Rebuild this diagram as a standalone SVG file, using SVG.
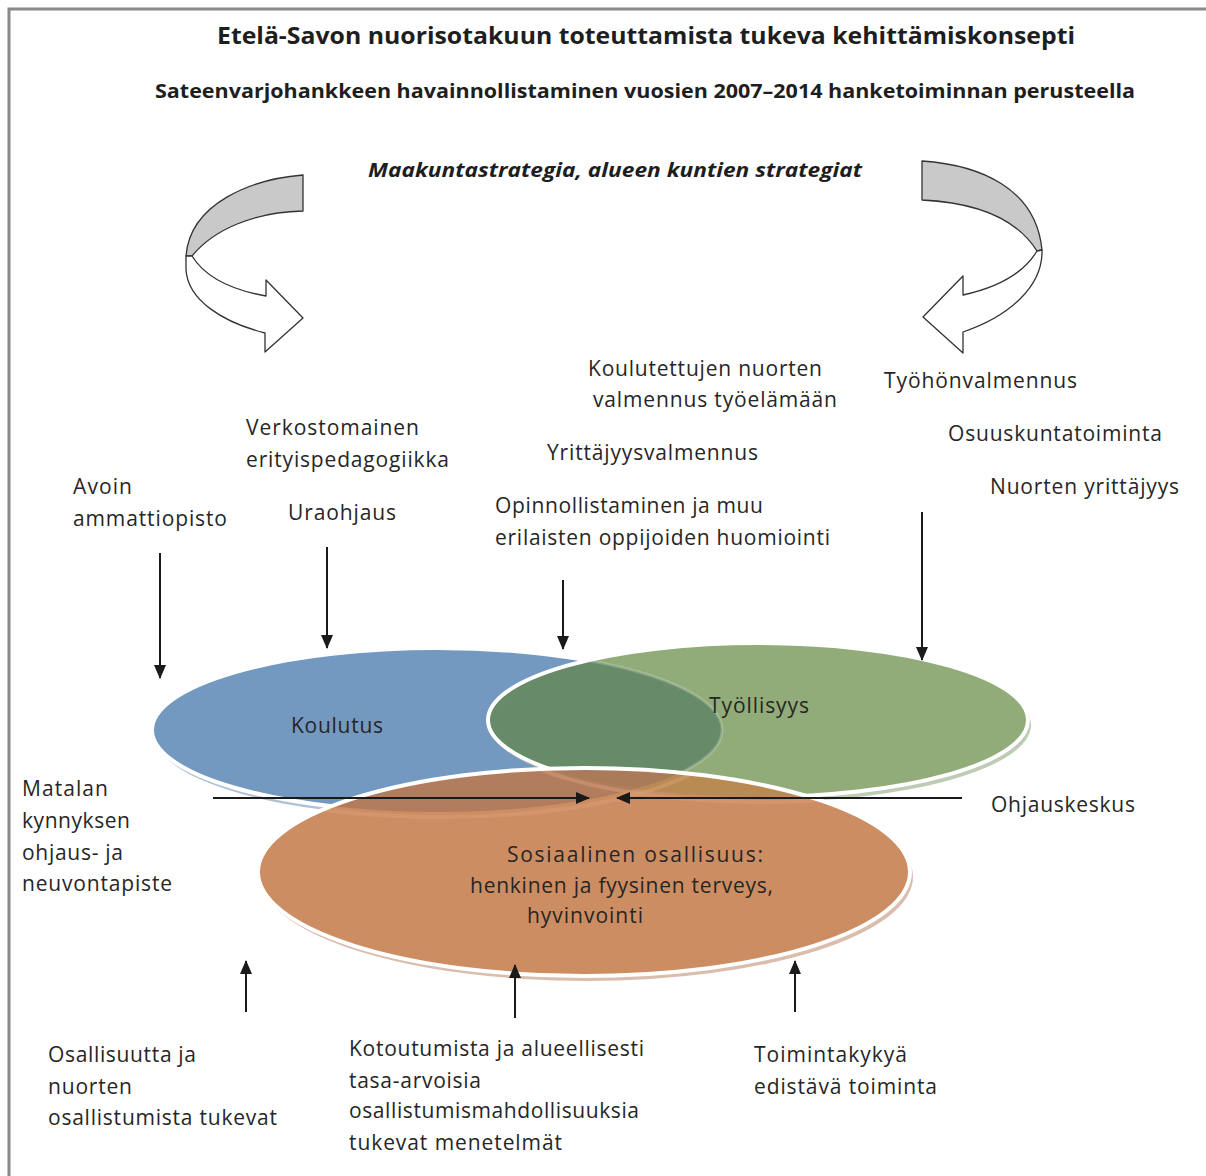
<svg xmlns="http://www.w3.org/2000/svg" width="1206" height="1176" viewBox="0 0 1206 1176">
<defs>
<style>
.t{font-family:"Open Sans","Liberation Sans",sans-serif;font-size:21px;fill:#262626}
.h1{font-family:"Open Sans","Liberation Sans",sans-serif;font-size:23px;font-weight:bold;fill:#1e1e1e}
.h2{font-family:"Open Sans","Liberation Sans",sans-serif;font-size:19px;font-weight:bold;fill:#1e1e1e}
.h3{font-family:"Open Sans","Liberation Sans",sans-serif;font-size:19px;font-weight:bold;font-style:italic;fill:#1e1e1e}
.ar{stroke:#1a1a1a;stroke-width:2;fill:none;marker-end:url(#ah)}
.rib{stroke:#333;stroke-width:1.3;stroke-linejoin:round}
</style>
<marker id="ah" markerUnits="userSpaceOnUse" markerWidth="14" markerHeight="12" refX="13" refY="6" orient="auto">
<path d="M0,0 L14,6 L0,12 Z" fill="#1a1a1a"/>
</marker>
<clipPath id="cb"><ellipse cx="437" cy="730" rx="285" ry="82"/></clipPath>
<clipPath id="cg"><ellipse cx="758" cy="720" rx="270" ry="77"/></clipPath>
<clipPath id="co"><ellipse cx="584" cy="872" rx="326" ry="104"/></clipPath>
</defs>
<rect width="1206" height="1176" fill="#fff"/>
<path d="M9,1176 V9 H1206" fill="none" stroke="#8a8a8a" stroke-width="3"/>

<g id="titles">
<text class="h1" x="646" y="44" text-anchor="middle" textLength="858" lengthAdjust="spacingAndGlyphs">Etelä-Savon nuorisotakuun toteuttamista tukeva kehittämiskonsepti</text>
<text class="h2" x="645" y="98" text-anchor="middle" textLength="980" lengthAdjust="spacingAndGlyphs">Sateenvarjohankkeen havainnollistaminen vuosien 2007–2014 hanketoiminnan perusteella</text>
<text class="h3" x="615" y="177" text-anchor="middle" textLength="494" lengthAdjust="spacingAndGlyphs">Maakuntastrategia, alueen kuntien strategiat</text>
</g>

<g id="cycle-left">
<path class="rib" fill="#c9c9c9" d="M303,175 C252,179 190,203 186,256 L192,256 C214,229 255,212 303,211 Z"/>
<path class="rib" fill="#fff" d="M186,256 L186,270 C188,300 222,322 265,333 L265,352 L303,318 L266,280 L266,296 C232,290 205,277 192,256 Z"/>
</g>
<g id="cycle-right">
<path class="rib" fill="#c9c9c9" d="M922,161 C980,165 1036,188 1042,250 L1037,251 C1020,224 985,203 922,200 Z"/>
<path class="rib" fill="#fff" d="M1042,250 C1043,286 1010,316 963,332 L963,353 L923,317 L963,276 L963,295 C1000,287 1025,271 1037,251 Z"/>
</g>

<g id="ellipses">
<ellipse cx="440" cy="735" rx="285" ry="82" fill="#8ea6c2" opacity="0.7"/>
<ellipse id="koulutus-shape" cx="437" cy="730" rx="285" ry="82" fill="#7499c0" stroke="#fff" stroke-width="4"/>
<ellipse cx="761" cy="725" rx="270" ry="77" fill="#a3b596" opacity="0.7"/>
<ellipse id="tyollisyys-shape" cx="758" cy="720" rx="270" ry="77" fill="#91ac78"/>
<g clip-path="url(#cb)">
<ellipse cx="758" cy="720" rx="270" ry="77" fill="#678a69"/>
</g>
<g clip-path="url(#cg)">
<ellipse cx="437" cy="730" rx="285" ry="82" fill="none" stroke="#fff" stroke-opacity="0.2" stroke-width="3"/>
</g>
<ellipse cx="758" cy="720" rx="270" ry="77" fill="none" stroke="#fff" stroke-width="4"/>
<ellipse cx="587" cy="877" rx="326" ry="104" fill="#c9a38c" opacity="0.7"/>
<ellipse id="osallisuus-shape" cx="584" cy="872" rx="326" ry="104" fill="#cd8d62"/>
<g clip-path="url(#co)">
<ellipse cx="437" cy="730" rx="285" ry="82" fill="#b27d5e"/>
<ellipse cx="758" cy="720" rx="270" ry="77" fill="#b98a52"/>
<g clip-path="url(#cb)"><ellipse cx="758" cy="720" rx="270" ry="77" fill="#a97b58"/></g>
<ellipse cx="440" cy="735" rx="285" ry="82" fill="none" stroke="#dca27a" stroke-opacity="0.45" stroke-width="4"/>
<ellipse cx="761" cy="725" rx="270" ry="77" fill="none" stroke="#dca27a" stroke-opacity="0.45" stroke-width="4"/>
</g>
<ellipse cx="584" cy="872" rx="326" ry="104" fill="none" stroke="#fff" stroke-width="4"/>
</g>

<g id="node-koulutus"><text class="t" x="291" y="733" textLength="92">Koulutus</text></g>
<g id="node-tyollisyys"><text class="t" x="709" y="713" textLength="100">Työllisyys</text></g>
<g id="node-osallisuus">
<text class="t" x="507" y="862" textLength="256">Sosiaalinen osallisuus:</text>
<text class="t" x="470" y="893" textLength="303">henkinen ja fyysinen terveys,</text>
<text class="t" x="527" y="923" textLength="116">hyvinvointi</text>
</g>

<g id="label-koulutettujen">
<text class="t" x="588" y="376" textLength="234">Koulutettujen nuorten</text>
<text class="t" x="593" y="407" textLength="244">valmennus työelämään</text>
</g>
<g id="label-tyohonvalmennus"><text class="t" x="884" y="388" textLength="193">Työhönvalmennus</text></g>
<g id="label-verkostomainen">
<text class="t" x="246" y="435" textLength="173">Verkostomainen</text>
<text class="t" x="246" y="467" textLength="203">erityispedagogiikka</text>
</g>
<g id="label-osuuskunta"><text class="t" x="948" y="441" textLength="214">Osuuskuntatoiminta</text></g>
<g id="label-yrittajyysvalmennus"><text class="t" x="547" y="460" textLength="211">Yrittäjyysvalmennus</text></g>
<g id="label-avoin">
<text class="t" x="73" y="494" textLength="59">Avoin</text>
<text class="t" x="73" y="526" textLength="154">ammattiopisto</text>
</g>
<g id="label-uraohjaus"><text class="t" x="288" y="520" textLength="108">Uraohjaus</text></g>
<g id="label-nuorten-yrittajyys"><text class="t" x="990" y="494" textLength="189">Nuorten yrittäjyys</text></g>
<g id="label-opinnollistaminen">
<text class="t" x="495" y="513" textLength="268">Opinnollistaminen ja muu</text>
<text class="t" x="495" y="545" textLength="335">erilaisten oppijoiden huomiointi</text>
</g>
<g id="label-matalan">
<text class="t" x="22" y="796" textLength="86">Matalan</text>
<text class="t" x="22" y="828" textLength="108">kynnyksen</text>
<text class="t" x="22" y="860" textLength="101">ohjaus- ja</text>
<text class="t" x="22" y="891" textLength="150">neuvontapiste</text>
</g>
<g id="label-ohjauskeskus"><text class="t" x="991" y="812" textLength="144">Ohjauskeskus</text></g>
<g id="label-osallisuutta">
<text class="t" x="48" y="1062" textLength="148">Osallisuutta ja</text>
<text class="t" x="48" y="1094" textLength="84">nuorten</text>
<text class="t" x="48" y="1125" textLength="229">osallistumista tukevat</text>
</g>
<g id="label-kotoutumista">
<text class="t" x="349" y="1056" textLength="295">Kotoutumista ja alueellisesti</text>
<text class="t" x="349" y="1088" textLength="132">tasa-arvoisia</text>
<text class="t" x="349" y="1118" textLength="290">osallistumismahdollisuuksia</text>
<text class="t" x="349" y="1150" textLength="213">tukevat menetelmät</text>
</g>
<g id="label-toimintakyky">
<text class="t" x="754" y="1062" textLength="153">Toimintakykyä</text>
<text class="t" x="754" y="1094" textLength="183">edistävä toiminta</text>
</g>

<g id="connectors">
<line class="ar" x1="160" y1="553" x2="160" y2="678"/>
<line class="ar" x1="327" y1="547" x2="327" y2="648"/>
<line class="ar" x1="563" y1="580" x2="563" y2="649"/>
<line class="ar" x1="922" y1="512" x2="922" y2="660"/>
<line class="ar" x1="213" y1="798" x2="589" y2="798"/>
<line class="ar" x1="962" y1="798" x2="617" y2="798"/>
<line class="ar" x1="246" y1="1012" x2="246" y2="961"/>
<line class="ar" x1="515" y1="1018" x2="515" y2="965"/>
<line class="ar" x1="795" y1="1012" x2="795" y2="961"/>
</g>
</svg>
